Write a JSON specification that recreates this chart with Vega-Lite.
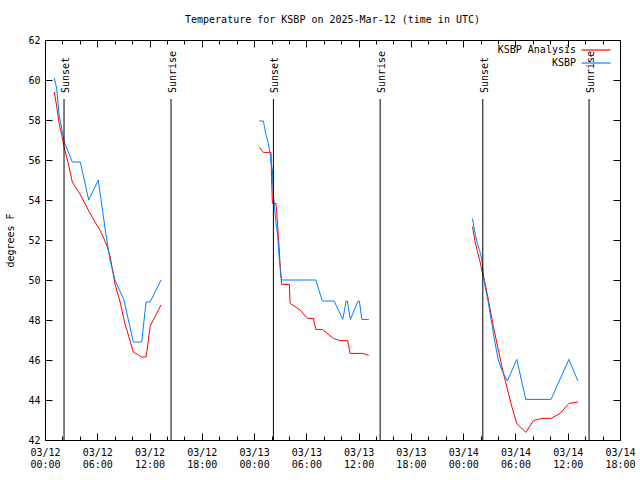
{
  "$schema": "https://vega.github.io/schema/vega-lite/v6.json",
  "width": 575,
  "height": 400,
  "autosize": {"type": "none"},
  "padding": {"left": 45, "top": 40, "right": 20, "bottom": 40},
  "background": "white",
  "config": {
    "font": "DejaVu Sans Mono",
    "view": {"stroke": "black", "strokeWidth": 1}
  },
  "title": {
    "text": "Temperature for KSBP on 2025-Mar-12 (time in UTC)",
    "fontSize": 10,
    "fontWeight": "normal",
    "font": "DejaVu Sans Mono",
    "color": "black",
    "anchor": "middle",
    "frame": "group",
    "offset": 10
  },
  "datasets": {
    "obs": [
      {"t": "2025-03-12T01:04:00Z", "temp": 59.4, "series": "KSBP Analysis", "seg": 1},
      {"t": "2025-03-12T01:20:00Z", "temp": 58.7, "series": "KSBP Analysis", "seg": 1},
      {"t": "2025-03-12T01:38:00Z", "temp": 57.8, "series": "KSBP Analysis", "seg": 1},
      {"t": "2025-03-12T01:57:00Z", "temp": 57.2, "series": "KSBP Analysis", "seg": 1},
      {"t": "2025-03-12T02:13:00Z", "temp": 56.6, "series": "KSBP Analysis", "seg": 1},
      {"t": "2025-03-12T02:41:00Z", "temp": 55.8, "series": "KSBP Analysis", "seg": 1},
      {"t": "2025-03-12T03:08:00Z", "temp": 54.9, "series": "KSBP Analysis", "seg": 1},
      {"t": "2025-03-12T04:01:00Z", "temp": 54.3, "series": "KSBP Analysis", "seg": 1},
      {"t": "2025-03-12T04:58:00Z", "temp": 53.5, "series": "KSBP Analysis", "seg": 1},
      {"t": "2025-03-12T05:44:00Z", "temp": 52.9, "series": "KSBP Analysis", "seg": 1},
      {"t": "2025-03-12T06:19:00Z", "temp": 52.5, "series": "KSBP Analysis", "seg": 1},
      {"t": "2025-03-12T07:05:00Z", "temp": 51.75, "series": "KSBP Analysis", "seg": 1},
      {"t": "2025-03-12T07:28:00Z", "temp": 51.2, "series": "KSBP Analysis", "seg": 1},
      {"t": "2025-03-12T08:02:00Z", "temp": 49.8, "series": "KSBP Analysis", "seg": 1},
      {"t": "2025-03-12T08:37:00Z", "temp": 48.9, "series": "KSBP Analysis", "seg": 1},
      {"t": "2025-03-12T09:11:00Z", "temp": 47.8, "series": "KSBP Analysis", "seg": 1},
      {"t": "2025-03-12T09:34:00Z", "temp": 47.25, "series": "KSBP Analysis", "seg": 1},
      {"t": "2025-03-12T10:08:00Z", "temp": 46.4, "series": "KSBP Analysis", "seg": 1},
      {"t": "2025-03-12T10:43:00Z", "temp": 46.25, "series": "KSBP Analysis", "seg": 1},
      {"t": "2025-03-12T11:06:00Z", "temp": 46.15, "series": "KSBP Analysis", "seg": 1},
      {"t": "2025-03-12T11:36:00Z", "temp": 46.15, "series": "KSBP Analysis", "seg": 1},
      {"t": "2025-03-12T11:47:00Z", "temp": 46.7, "series": "KSBP Analysis", "seg": 1},
      {"t": "2025-03-12T12:04:00Z", "temp": 47.7, "series": "KSBP Analysis", "seg": 1},
      {"t": "2025-03-12T12:26:00Z", "temp": 48.0, "series": "KSBP Analysis", "seg": 1},
      {"t": "2025-03-12T13:19:00Z", "temp": 48.75, "series": "KSBP Analysis", "seg": 1},

      {"t": "2025-03-13T00:36:00Z", "temp": 56.63, "series": "KSBP Analysis", "seg": 2},
      {"t": "2025-03-13T01:04:00Z", "temp": 56.38, "series": "KSBP Analysis", "seg": 2},
      {"t": "2025-03-13T01:57:00Z", "temp": 56.38, "series": "KSBP Analysis", "seg": 2},
      {"t": "2025-03-13T02:00:00Z", "temp": 55.17, "series": "KSBP Analysis", "seg": 2},
      {"t": "2025-03-13T02:06:00Z", "temp": 53.83, "series": "KSBP Analysis", "seg": 2},
      {"t": "2025-03-13T02:31:00Z", "temp": 53.83, "series": "KSBP Analysis", "seg": 2},
      {"t": "2025-03-13T02:36:00Z", "temp": 53.33, "series": "KSBP Analysis", "seg": 2},
      {"t": "2025-03-13T02:43:00Z", "temp": 52.67, "series": "KSBP Analysis", "seg": 2},
      {"t": "2025-03-13T02:47:00Z", "temp": 52.17, "series": "KSBP Analysis", "seg": 2},
      {"t": "2025-03-13T02:52:00Z", "temp": 51.67, "series": "KSBP Analysis", "seg": 2},
      {"t": "2025-03-13T02:57:00Z", "temp": 51.0, "series": "KSBP Analysis", "seg": 2},
      {"t": "2025-03-13T03:04:00Z", "temp": 50.33, "series": "KSBP Analysis", "seg": 2},
      {"t": "2025-03-13T03:10:00Z", "temp": 49.78, "series": "KSBP Analysis", "seg": 2},
      {"t": "2025-03-13T04:03:00Z", "temp": 49.78, "series": "KSBP Analysis", "seg": 2},
      {"t": "2025-03-13T04:08:00Z", "temp": 48.83, "series": "KSBP Analysis", "seg": 2},
      {"t": "2025-03-13T05:17:00Z", "temp": 48.5, "series": "KSBP Analysis", "seg": 2},
      {"t": "2025-03-13T06:07:00Z", "temp": 48.08, "series": "KSBP Analysis", "seg": 2},
      {"t": "2025-03-13T06:48:00Z", "temp": 48.08, "series": "KSBP Analysis", "seg": 2},
      {"t": "2025-03-13T07:05:00Z", "temp": 47.53, "series": "KSBP Analysis", "seg": 2},
      {"t": "2025-03-13T07:50:00Z", "temp": 47.53, "series": "KSBP Analysis", "seg": 2},
      {"t": "2025-03-13T09:06:00Z", "temp": 47.08, "series": "KSBP Analysis", "seg": 2},
      {"t": "2025-03-13T09:52:00Z", "temp": 46.97, "series": "KSBP Analysis", "seg": 2},
      {"t": "2025-03-13T10:45:00Z", "temp": 46.97, "series": "KSBP Analysis", "seg": 2},
      {"t": "2025-03-13T11:01:00Z", "temp": 46.33, "series": "KSBP Analysis", "seg": 2},
      {"t": "2025-03-13T12:28:00Z", "temp": 46.33, "series": "KSBP Analysis", "seg": 2},
      {"t": "2025-03-13T13:10:00Z", "temp": 46.23, "series": "KSBP Analysis", "seg": 2},

      {"t": "2025-03-14T01:04:00Z", "temp": 52.67, "series": "KSBP Analysis", "seg": 3},
      {"t": "2025-03-14T01:22:00Z", "temp": 51.92, "series": "KSBP Analysis", "seg": 3},
      {"t": "2025-03-14T01:38:00Z", "temp": 51.42, "series": "KSBP Analysis", "seg": 3},
      {"t": "2025-03-14T01:56:00Z", "temp": 50.92, "series": "KSBP Analysis", "seg": 3},
      {"t": "2025-03-14T02:10:00Z", "temp": 50.42, "series": "KSBP Analysis", "seg": 3},
      {"t": "2025-03-14T02:31:00Z", "temp": 49.83, "series": "KSBP Analysis", "seg": 3},
      {"t": "2025-03-14T02:54:00Z", "temp": 49.0, "series": "KSBP Analysis", "seg": 3},
      {"t": "2025-03-14T03:28:00Z", "temp": 47.67, "series": "KSBP Analysis", "seg": 3},
      {"t": "2025-03-14T04:02:00Z", "temp": 46.5, "series": "KSBP Analysis", "seg": 3},
      {"t": "2025-03-14T04:37:00Z", "temp": 45.33, "series": "KSBP Analysis", "seg": 3},
      {"t": "2025-03-14T05:00:00Z", "temp": 44.67, "series": "KSBP Analysis", "seg": 3},
      {"t": "2025-03-14T05:35:00Z", "temp": 43.67, "series": "KSBP Analysis", "seg": 3},
      {"t": "2025-03-14T06:09:00Z", "temp": 42.83, "series": "KSBP Analysis", "seg": 3},
      {"t": "2025-03-14T07:11:00Z", "temp": 42.38, "series": "KSBP Analysis", "seg": 3},
      {"t": "2025-03-14T08:04:00Z", "temp": 42.97, "series": "KSBP Analysis", "seg": 3},
      {"t": "2025-03-14T09:02:00Z", "temp": 43.08, "series": "KSBP Analysis", "seg": 3},
      {"t": "2025-03-14T10:05:00Z", "temp": 43.08, "series": "KSBP Analysis", "seg": 3},
      {"t": "2025-03-14T11:08:00Z", "temp": 43.33, "series": "KSBP Analysis", "seg": 3},
      {"t": "2025-03-14T12:08:00Z", "temp": 43.83, "series": "KSBP Analysis", "seg": 3},
      {"t": "2025-03-14T13:10:00Z", "temp": 43.9, "series": "KSBP Analysis", "seg": 3},

      {"t": "2025-03-12T01:04:00Z", "temp": 60.1, "series": "KSBP", "seg": 1},
      {"t": "2025-03-12T01:20:00Z", "temp": 59.6, "series": "KSBP", "seg": 1},
      {"t": "2025-03-12T01:38:00Z", "temp": 58.2, "series": "KSBP", "seg": 1},
      {"t": "2025-03-12T01:57:00Z", "temp": 57.5, "series": "KSBP", "seg": 1},
      {"t": "2025-03-12T02:13:00Z", "temp": 56.9, "series": "KSBP", "seg": 1},
      {"t": "2025-03-12T03:08:00Z", "temp": 55.9, "series": "KSBP", "seg": 1},
      {"t": "2025-03-12T04:03:00Z", "temp": 55.9, "series": "KSBP", "seg": 1},
      {"t": "2025-03-12T05:01:00Z", "temp": 54.0, "series": "KSBP", "seg": 1},
      {"t": "2025-03-12T06:07:00Z", "temp": 55.0, "series": "KSBP", "seg": 1},
      {"t": "2025-03-12T06:55:00Z", "temp": 52.5, "series": "KSBP", "seg": 1},
      {"t": "2025-03-12T07:28:00Z", "temp": 51.0, "series": "KSBP", "seg": 1},
      {"t": "2025-03-12T08:02:00Z", "temp": 50.0, "series": "KSBP", "seg": 1},
      {"t": "2025-03-12T09:04:00Z", "temp": 49.0, "series": "KSBP", "seg": 1},
      {"t": "2025-03-12T10:08:00Z", "temp": 46.9, "series": "KSBP", "seg": 1},
      {"t": "2025-03-12T11:06:00Z", "temp": 46.9, "series": "KSBP", "seg": 1},
      {"t": "2025-03-12T11:36:00Z", "temp": 48.9, "series": "KSBP", "seg": 1},
      {"t": "2025-03-12T12:04:00Z", "temp": 48.9, "series": "KSBP", "seg": 1},
      {"t": "2025-03-12T13:19:00Z", "temp": 50.0, "series": "KSBP", "seg": 1},

      {"t": "2025-03-13T00:36:00Z", "temp": 57.95, "series": "KSBP", "seg": 2},
      {"t": "2025-03-13T01:04:00Z", "temp": 57.95, "series": "KSBP", "seg": 2},
      {"t": "2025-03-13T01:20:00Z", "temp": 57.33, "series": "KSBP", "seg": 2},
      {"t": "2025-03-13T01:38:00Z", "temp": 56.83, "series": "KSBP", "seg": 2},
      {"t": "2025-03-13T01:50:00Z", "temp": 56.33, "series": "KSBP", "seg": 2},
      {"t": "2025-03-13T01:57:00Z", "temp": 55.83, "series": "KSBP", "seg": 2},
      {"t": "2025-03-13T02:06:00Z", "temp": 55.5, "series": "KSBP", "seg": 2},
      {"t": "2025-03-13T02:12:00Z", "temp": 54.5, "series": "KSBP", "seg": 2},
      {"t": "2025-03-13T02:20:00Z", "temp": 53.67, "series": "KSBP", "seg": 2},
      {"t": "2025-03-13T02:31:00Z", "temp": 52.83, "series": "KSBP", "seg": 2},
      {"t": "2025-03-13T02:43:00Z", "temp": 52.17, "series": "KSBP", "seg": 2},
      {"t": "2025-03-13T02:54:00Z", "temp": 51.0, "series": "KSBP", "seg": 2},
      {"t": "2025-03-13T03:04:00Z", "temp": 50.25, "series": "KSBP", "seg": 2},
      {"t": "2025-03-13T03:10:00Z", "temp": 50.0, "series": "KSBP", "seg": 2},
      {"t": "2025-03-13T07:05:00Z", "temp": 50.0, "series": "KSBP", "seg": 2},
      {"t": "2025-03-13T07:50:00Z", "temp": 48.95, "series": "KSBP", "seg": 2},
      {"t": "2025-03-13T09:11:00Z", "temp": 48.95, "series": "KSBP", "seg": 2},
      {"t": "2025-03-13T10:11:00Z", "temp": 48.03, "series": "KSBP", "seg": 2},
      {"t": "2025-03-13T10:34:00Z", "temp": 48.95, "series": "KSBP", "seg": 2},
      {"t": "2025-03-13T10:42:00Z", "temp": 48.95, "series": "KSBP", "seg": 2},
      {"t": "2025-03-13T11:03:00Z", "temp": 48.03, "series": "KSBP", "seg": 2},
      {"t": "2025-03-13T11:56:00Z", "temp": 48.95, "series": "KSBP", "seg": 2},
      {"t": "2025-03-13T12:05:00Z", "temp": 48.95, "series": "KSBP", "seg": 2},
      {"t": "2025-03-13T12:22:00Z", "temp": 48.03, "series": "KSBP", "seg": 2},
      {"t": "2025-03-13T13:10:00Z", "temp": 48.03, "series": "KSBP", "seg": 2},

      {"t": "2025-03-14T01:04:00Z", "temp": 53.08, "series": "KSBP", "seg": 3},
      {"t": "2025-03-14T01:22:00Z", "temp": 52.33, "series": "KSBP", "seg": 3},
      {"t": "2025-03-14T01:38:00Z", "temp": 51.83, "series": "KSBP", "seg": 3},
      {"t": "2025-03-14T01:56:00Z", "temp": 51.42, "series": "KSBP", "seg": 3},
      {"t": "2025-03-14T02:10:00Z", "temp": 50.92, "series": "KSBP", "seg": 3},
      {"t": "2025-03-14T02:19:00Z", "temp": 50.25, "series": "KSBP", "seg": 3},
      {"t": "2025-03-14T02:31:00Z", "temp": 49.67, "series": "KSBP", "seg": 3},
      {"t": "2025-03-14T02:43:00Z", "temp": 49.25, "series": "KSBP", "seg": 3},
      {"t": "2025-03-14T02:54:00Z", "temp": 48.83, "series": "KSBP", "seg": 3},
      {"t": "2025-03-14T03:05:00Z", "temp": 48.33, "series": "KSBP", "seg": 3},
      {"t": "2025-03-14T03:17:00Z", "temp": 47.83, "series": "KSBP", "seg": 3},
      {"t": "2025-03-14T03:28:00Z", "temp": 47.33, "series": "KSBP", "seg": 3},
      {"t": "2025-03-14T03:40:00Z", "temp": 46.83, "series": "KSBP", "seg": 3},
      {"t": "2025-03-14T04:02:00Z", "temp": 46.0, "series": "KSBP", "seg": 3},
      {"t": "2025-03-14T04:26:00Z", "temp": 45.5, "series": "KSBP", "seg": 3},
      {"t": "2025-03-14T05:04:00Z", "temp": 44.95, "series": "KSBP", "seg": 3},
      {"t": "2025-03-14T06:09:00Z", "temp": 46.03, "series": "KSBP", "seg": 3},
      {"t": "2025-03-14T07:11:00Z", "temp": 44.03, "series": "KSBP", "seg": 3},
      {"t": "2025-03-14T10:05:00Z", "temp": 44.03, "series": "KSBP", "seg": 3},
      {"t": "2025-03-14T12:08:00Z", "temp": 46.03, "series": "KSBP", "seg": 3},
      {"t": "2025-03-14T13:10:00Z", "temp": 44.95, "series": "KSBP", "seg": 3}
    ],
    "sun": [
      {"t": "2025-03-12T02:11:00Z", "event": "Sunset"},
      {"t": "2025-03-12T14:28:00Z", "event": "Sunrise"},
      {"t": "2025-03-13T02:13:00Z", "event": "Sunset"},
      {"t": "2025-03-13T14:28:00Z", "event": "Sunrise"},
      {"t": "2025-03-14T02:15:00Z", "event": "Sunset"},
      {"t": "2025-03-14T14:27:00Z", "event": "Sunrise"}
    ]
  },
  "layer": [
    {
      "data": {"name": "obs"},
      "mark": {"type": "line", "strokeWidth": 1},
      "encoding": {
        "x": {
          "field": "t",
          "type": "temporal",
          "scale": {
            "type": "utc",
            "domain": [1741737600000, 1741975200000]
          },
          "axis": {
            "orient": "bottom",
            "title": null,
            "domain": false,
            "grid": false,
            "values": [1741737600000, 1741744800000, 1741752000000, 1741759200000, 1741766400000, 1741773600000, 1741780800000, 1741788000000, 1741795200000, 1741802400000, 1741809600000, 1741816800000, 1741824000000, 1741831200000, 1741838400000, 1741845600000, 1741852800000, 1741860000000, 1741867200000, 1741874400000, 1741881600000, 1741888800000, 1741896000000, 1741903200000, 1741910400000, 1741917600000, 1741924800000, 1741932000000, 1741939200000, 1741946400000, 1741953600000, 1741960800000, 1741968000000, 1741975200000],
            "labelExpr": "utchours(datum.value) % 6 == 0 ? [utcFormat(datum.value, '%m/%d'), utcFormat(datum.value, '%H:%M')] : ''",
            "tickSize": {"condition": {"test": "utchours(datum.value) % 6 == 0", "value": -7}, "value": -4},
            "tickColor": "black",
            "labelColor": "black",
            "labelFont": "DejaVu Sans Mono",
            "labelFontSize": 10,
            "labelPadding": 14,
            "labelFlush": false,
            "labelOverlap": false,
            "labelBound": false,
            "labelLineHeight": 12
          }
        },
        "y": {
          "field": "temp",
          "type": "quantitative",
          "scale": {"domain": [42, 62], "nice": false, "zero": false},
          "axis": {
            "orient": "left",
            "title": "degrees F",
            "titleFont": "DejaVu Sans Mono",
            "titleFontSize": 10,
            "titleFontWeight": "normal",
            "titleColor": "black",
            "titleAngle": 270,
            "titleAlign": "center",
            "titleBaseline": "bottom",
            "titleX": -30,
            "titleY": 200,
            "values": [42, 44, 46, 48, 50, 52, 54, 56, 58, 60, 62],
            "domain": false,
            "grid": false,
            "tickSize": -7,
            "tickColor": "black",
            "labelColor": "black",
            "labelFont": "DejaVu Sans Mono",
            "labelFontSize": 10,
            "labelPadding": 12
          }
        },
        "color": {
          "field": "series",
          "type": "nominal",
          "scale": {"domain": ["KSBP Analysis", "KSBP"], "range": ["#ff0000", "#0080ff"]},
          "legend": {
            "title": null,
            "orient": "none",
            "legendX": 545,
            "legendY": 4,
            "padding": 0,
            "symbolType": "M-2.9,0H2.9",
            "symbolSize": 100,
            "symbolStrokeWidth": 1.2,
            "labelAlign": "right",
            "labelOffset": -26,
            "labelFont": "DejaVu Sans Mono",
            "labelFontSize": 10,
            "labelColor": "black",
            "rowPadding": 2,
            "encode": {
              "symbols": {
                "update": {
                  "stroke": {"scale": "color", "field": "value"},
                  "fill": {"value": "transparent"}
                }
              }
            }
          }
        },
        "detail": {"field": "seg", "type": "nominal"}
      }
    },
    {
      "data": {"name": "sun"},
      "mark": {"type": "rule", "color": "black", "strokeWidth": 1},
      "encoding": {
        "x": {
          "field": "t",
          "type": "temporal",
          "axis": {
            "orient": "top",
            "title": null,
            "domain": false,
            "grid": false,
            "labels": false,
            "values": [1741737600000, 1741744800000, 1741752000000, 1741759200000, 1741766400000, 1741773600000, 1741780800000, 1741788000000, 1741795200000, 1741802400000, 1741809600000, 1741816800000, 1741824000000, 1741831200000, 1741838400000, 1741845600000, 1741852800000, 1741860000000, 1741867200000, 1741874400000, 1741881600000, 1741888800000, 1741896000000, 1741903200000, 1741910400000, 1741917600000, 1741924800000, 1741932000000, 1741939200000, 1741946400000, 1741953600000, 1741960800000, 1741968000000, 1741975200000],
            "tickSize": {"condition": {"test": "utchours(datum.value) % 6 == 0", "value": -7}, "value": -4},
            "tickColor": "black"
          }
        },
        "y": {
          "datum": 59.05,
          "type": "quantitative",
          "axis": {
            "orient": "right",
            "title": null,
            "domain": false,
            "grid": false,
            "labels": false,
            "values": [42, 44, 46, 48, 50, 52, 54, 56, 58, 60, 62],
            "tickSize": -7,
            "tickColor": "black"
          }
        },
        "y2": {"datum": 42}
      }
    },
    {
      "data": {"name": "sun"},
      "mark": {"type": "text", "angle": 270, "align": "left", "baseline": "middle", "dy": 2, "font": "DejaVu Sans Mono", "fontSize": 10, "color": "black"},
      "encoding": {
        "x": {"field": "t", "type": "temporal", "axis": null},
        "y": {"datum": 59.35, "type": "quantitative", "axis": null},
        "text": {"field": "event", "type": "nominal"}
      }
    }
  ],
  "resolve": {"axis": {"x": "independent", "y": "independent"}}
}
